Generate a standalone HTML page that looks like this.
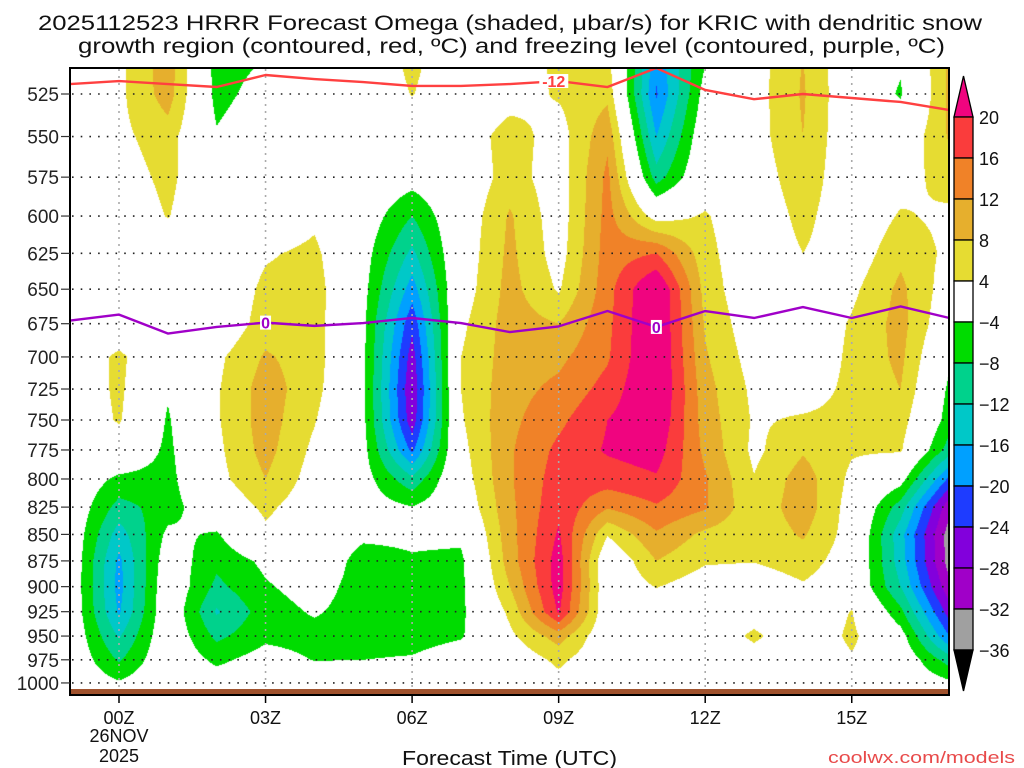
<!DOCTYPE html>
<html><head><meta charset="utf-8">
<style>
html,body{margin:0;padding:0;background:#fff;}
#wrap{position:relative;width:1024px;height:768px;overflow:hidden;font-family:"Liberation Sans",sans-serif;}
#field{position:absolute;left:70px;top:68px;}
#ov{position:absolute;left:0;top:0;}
</style></head>
<body>
<div id="wrap">
<canvas id="field" width="879" height="627"></canvas>
<svg id="ov" width="1024" height="768">
<g id="grid"></g>
<g id="lines"></g>
<rect x="70" y="689" width="879" height="6" fill="#A0522D"/>
<rect x="70" y="68" width="879" height="627" fill="none" stroke="#000" stroke-width="2"/>
<g id="yaxis"></g>
<g id="xaxis"></g>
<g id="cbar"></g>
<text x="38" y="30" font-size="21" textLength="944" lengthAdjust="spacingAndGlyphs" fill="#111">2025112523 HRRR Forecast Omega (shaded, μbar/s) for KRIC with dendritic snow</text>
<text x="78" y="53" font-size="21" textLength="867" lengthAdjust="spacingAndGlyphs" fill="#111">growth region (contoured, red, ºC) and freezing level (contoured, purple, ºC)</text>
<text x="402" y="765" font-size="20" textLength="215" lengthAdjust="spacingAndGlyphs" fill="#111">Forecast Time (UTC)</text>
<text x="828" y="763" font-size="17" textLength="187" lengthAdjust="spacingAndGlyphs" fill="#E84A4A">coolwx.com/models</text>
</svg>
</div>
<script>
// ---- data ----
const hours = [-1,0,1,2,3,4,5,6,7,8,9,10,11,12,13,14,15,16,17];
const pressures = [500,525,550,575,600,625,650,675,700,725,750,775,800,825,850,875,900,925,950,975,1000];
const omegaHm1 = [0,0,0,0,0,0,0,0,0,0,0,0,0,0,0,0,0,0,0,0,0];
const omegaH00 = [3,3,3,2,1,0,0,0,5,5,4.5,1,-5,-9.5,-14,-17,-17.5,-16.5,-12.5,-8.5,-3.5];
const omegaH01 = [10.5,10,6,5,4.2,1,0,0,-1,-3.5,-4.5,-5,-5.5,-6,-3,-1,0,0,0,0,0];
const omegaH02 = [-6,-5.5,-3.5,0,0,0,0,0,3,3.5,3.5,3,2.5,0,-4.5,-7,-9,-12.5,-9,-5,-1.5];
const omegaH03 = [-4.5,-2,0,0,0,3.5,5,6,8.5,10,10,9.5,8,5,3,-3,-4.5,-6,-5,-2,0];
const omegaH04 = [0,0,0,0,3,5,6,6,6,5.5,4.3,3,2,1,0,0,-2,-3.5,-5.5,-4.2,0];
const omegaH05 = [0,0,0,0,-1,-2,-2.5,-3,-3,-3,-3,-2.5,-2,-1.5,-3,-6,-6,-6,-6,-4,0];
const omegaH06 = [5.5,4.2,0,-2,-8,-13,-18,-23,-26,-27.5,-26.5,-21,-11,-3.8,-3,-4.5,-6,-6,-6,-3.5,0];
const omegaH07 = [0,0,1,0,0.5,1,1.5,3,4,4,3.5,2.5,1.5,0,-3,-5,-5,-5,-4.5,-1,0];
const omegaH08 = [1,2,6,6,8.5,9,9.5,10,10,10.5,11,11.5,11.5,11,10.5,10,8,5,3,0.5,0];
const omegaH09 = [5,4.5,2,1.5,1.5,2,3.5,8,11,13,15,17,18,19,20.5,22,22,20.5,10,5,2.5];
const omegaH10 = [5,7,11,13,13.5,14,14.5,15,15.5,17.5,20,20.5,18,12.5,4.3,-0.5,0,0,0,0,0];
const omegaH11 = [-18,-20.5,-16,-10,2,16,25,25,25,25,24,22,19.5,15.5,11.5,8,4.2,1,0,0,0];
const omegaH12 = [-5,-2,0,1,4.5,5.5,6.5,7.5,8.5,9.5,10,11,12.5,12.5,7,4.5,1.5,0,0,0,0];
const omegaH13 = [2,2,2,1,0,0,0,1,2,3,3.5,3,4.2,5,5,4.2,1,1.5,5,1.5,0];
const omegaH14 = [8,8.5,8,7,5.5,4,1,0,0,2,4.5,7.5,10,10.5,8.5,6,3.5,0,0,0,0];
const omegaH15 = [0,0,0,0,0,1,3,4.5,5,5,5,4.5,3,2,2,1.5,1,4.2,5,3.5,0];
const omegaH16 = [-3,-4.5,0,2,4.5,7,9,9.5,9,8,6,4.5,-2,-10,-14.5,-14,-12,-7,-2,0,0];
const omegaH17 = [9,9,8.5,6,3,3,1.5,0,-3,-5,-6,-10,-21,-31,-34,-34,-31,-26,-20,-10,-3];
const omegaColumns = [omegaHm1,omegaH00,omegaH01,omegaH02,omegaH03,omegaH04,omegaH05,omegaH06,omegaH07,omegaH08,omegaH09,omegaH10,omegaH11,omegaH12,omegaH13,omegaH14,omegaH15,omegaH16,omegaH17];
const dendriticP = [519.3,517.6,519.3,521.0,514.2,516.5,518.2,520.4,520.4,519.3,517.6,521.0,510.3,522.7,528.0,525.0,527.3,529.6,534.3];
const freezingP = [672.7,668.3,682.3,677.4,674.2,676.6,674.5,670.8,674.5,681.2,677.0,665.7,677.4,665.7,670.8,662.8,670.8,662.4,670.8];
const levelTicks = [525,550,575,600,625,650,675,700,725,750,775,800,825,850,875,900,925,950,975,1000];
const timeTicks = [0,3,6,9,12,15];
const timeLabels = ["00Z","03Z","06Z","09Z","12Z","15Z"];
const cbarLabels = ["20","16","12","8","4","\u22124","\u22128","\u221212","\u221216","\u221220","\u221224","\u221228","\u221232","\u221236"];
const contourLevels = [-36,-32,-28,-24,-20,-16,-12,-8,-4,4,8,12,16,20];
const palette = ["#000000","#A0A0A0","#A000C8","#8200DC","#1E3CFF","#00A0FF","#00C8C8","#00D28C","#00DC00","#FFFFFF","#E6DC32","#E6AF2D","#F08228","#FA3C3C","#F0047F"];

// ---- axes ----
function xOf(h){return 119+h*48.85;}
function yOf(p){return 94+914*Math.log(p/525);}
function hOf(x){return (x-119)/48.85;}
function pOf(y){return 525*Math.exp((y-94)/914);}
const NS="http://www.w3.org/2000/svg";
function mk(tag,attrs,parent){const e=document.createElementNS(NS,tag);for(const k in attrs)e.setAttribute(k,attrs[k]);parent.appendChild(e);return e;}

// ---- field ----
(function(){
 const cv=document.getElementById('field');const ctx=cv.getContext('2d');
 const W=cv.width,H=cv.height;const img=ctx.createImageData(W,H);
 const rgb=palette.map(c=>[parseInt(c.substr(1,2),16),parseInt(c.substr(3,2),16),parseInt(c.substr(5,2),16)]);
 const nC=hours.length,nR=pressures.length;
 for(let py=0;py<H;py++){
  const p=pOf(68+py+0.5);let r=(p-pressures[0])/(pressures[1]-pressures[0]);
  r=Math.max(0,Math.min(nR-1.0001,r));const r0=Math.floor(r),fr=r-r0;
  for(let px=0;px<W;px++){
   const h=hOf(70+px+0.5);let c=h-hours[0];c=Math.max(0,Math.min(nC-1.0001,c));
   const c0=Math.floor(c),fc=c-c0;
   const a=omegaColumns[c0],b=omegaColumns[c0+1];
   const v=(a[r0]*(1-fr)+a[r0+1]*fr)*(1-fc)+(b[r0]*(1-fr)+b[r0+1]*fr)*fc;
   let k=0;while(k<contourLevels.length&&v>=contourLevels[k])k++;
   const col=rgb[k];const i=(py*W+px)*4;
   img.data[i]=col[0];img.data[i+1]=col[1];img.data[i+2]=col[2];img.data[i+3]=255;
  }
 }
 ctx.putImageData(img,0,0);
})();

// ---- grid & axes ----
const grid=document.getElementById('grid');
levelTicks.forEach(p=>{
 const l=mk('line',{x1:72,x2:948,y1:yOf(p),y2:yOf(p),stroke:'#222','stroke-width':1.6,'stroke-dasharray':'1.6,7.1'},grid);
 
 
});
timeTicks.forEach(h=>{
 const l=mk('line',{x1:xOf(h),x2:xOf(h),y1:69,y2:689,stroke:'#aaa','stroke-width':1.6,'stroke-dasharray':'2,5'},grid);
 
 
});
const ya=document.getElementById('yaxis');
levelTicks.forEach(p=>{
 const y=yOf(p);
 const t=mk('line',{x1:61,x2:70,y1:y,y2:y,stroke:'#333','stroke-width':1.2},ya);
 
 
 const tx=mk('text',{x:59,y:y+7,'font-size':19,'text-anchor':'end',fill:'#222'},ya);
 tx.textContent=String(p);
 
 
});
const xa=document.getElementById('xaxis');
timeTicks.forEach((h,i)=>{
 const x=xOf(h);
 const t=mk('line',{x1:x,x2:x,y1:695,y2:703,stroke:'#000','stroke-width':1.5},xa);
 
 
 const tx=mk('text',{x:x,y:724,'font-size':18,'text-anchor':'middle',fill:'#111'},xa);
 tx.textContent=timeLabels[i];
 
 
});
[["26NOV",742],["2025",762]].forEach(d=>{
 const tx=mk('text',{x:119,y:d[1],'font-size':18,'text-anchor':'middle',fill:'#111'},xa);
 tx.textContent=d[0];
 
 
});

// ---- contour lines ----
const lg=document.getElementById('lines');
function poly(arr,color,name){
 const pts=arr.map((p,i)=>xOf(hours[i])+','+yOf(p)).join(' ');
 const pl=mk('polyline',{points:pts,fill:'none',stroke:color,'stroke-width':2.4,'stroke-linejoin':'round'},lg);
 
 
}
poly(dendriticP,'#FF4040','dendritic-minus12-line');
poly(freezingP,'#A000C8','freezing-level-line');
function lab(txt,h,arr,color){
 const i=hours.indexOf(Math.round(h));const y=yOf(arr[i]);
 const w=txt.length*9+2;
 const bg=mk('rect',{x:xOf(h)-w/2,y:y-7,width:w,height:14,fill:'#fff'},lg);
 
 
 const t=mk('text',{x:xOf(h),y:y+6,'font-size':16,'font-weight':'bold','text-anchor':'middle',fill:color},lg);
 t.textContent=txt;
 
 
}
lab('-12',8.9,dendriticP,'#FF4040');
lab('0',3,freezingP,'#A000C8');
lab('0',11,freezingP,'#A000C8');

// ---- colorbar ----
const cb=document.getElementById('cbar');
const cbX=954,cbW=19,cbTop=117,box=41;
const cbTopArrow=mk('polygon',{points:`${cbX},${cbTop} ${cbX+cbW},${cbTop} ${cbX+cbW/2},76`,fill:palette[14],stroke:'#000','stroke-width':1.3},cb);


for(let i=0;i<13;i++){
 const r=mk('rect',{x:cbX,y:cbTop+i*box,width:cbW,height:box,fill:palette[13-i],stroke:'#000','stroke-width':1.3},cb);
 
 
}
const cbBotArrow=mk('polygon',{points:`${cbX},${cbTop+13*box} ${cbX+cbW},${cbTop+13*box} ${cbX+cbW/2},691`,fill:palette[0],stroke:'#000','stroke-width':1.3},cb);


cbarLabels.forEach((s,i)=>{
 const t=mk('text',{x:979,y:cbTop+i*box+7,'font-size':18,fill:'#111'},cb);
 t.textContent=s;
 
 
});
</script>
</body></html>
